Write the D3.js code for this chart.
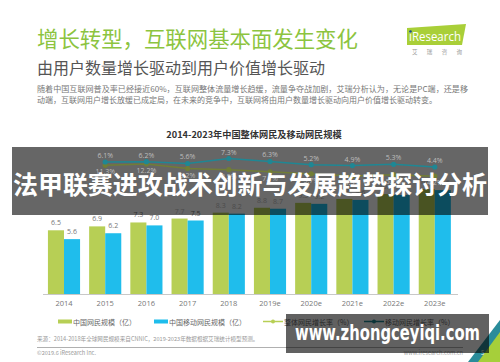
<!DOCTYPE html>
<meta charset="utf-8">
<html>
<head>
<style>
  body { margin: 0; background: #fff; }
  svg { display: block; }
  text { font-family: 'Noto Sans CJK SC', 'Noto Sans', sans-serif; }
  .num text, text.num { font-family: 'Open Sans', 'Noto Sans CJK SC', sans-serif; }
  .axis path { stroke: #c8c8c8; }
  .axis text { fill: #777; font-size: 7.5px; }
</style>
</head>
<body>
<svg width="500" height="362"></svg>
<script src="https://cdn.jsdelivr.net/npm/d3@7"></script>
<script>

// chart data
var years = ["2014", "2015", "2016", "2017", "2018", "2019e", "2020e", "2021e", "2022e", "2023e"];
var netUsers = [6.5, 6.9, 7.3, 7.7, 8.3, 8.8, 9.3, 9.7, 10.2, 10.7];
var mobileUsers = [5.6, 6.2, 7.0, 7.5, 8.2, 8.7, 9.2, 9.6, 10.1, 10.6];
var rateYears = years.slice(1);
var totalRate = [6.1, 6.2, 5.6, 7.3, 6.3, 5.2, 4.9, 5.3, 4.4];
var mobileRate = [11.3, 12.2, 9.2, 8.5, 7.1, 5.7, 4.3, 5.2, 4.2];

var green = "#b7cf55",
    blue = "#1fbdec",
    teal = "#1f8794",
    olive = "#717d36";

var svg = d3.select("svg");

// band overlay limits (used to lighten labels that sit on it)
var bandTop = 147, bandBottom = 215;
function labelColor(y, base) {
  return (y > bandTop && y < bandBottom) ? "#bdbdbd" : base;
}

// header
svg.append("text")
    .attr("x", 37).attr("y", 47)
    .attr("fill", "#8cc43f")
    .style("font-size", "21.4px")
    .text("增长转型，互联网基本面发生变化");

svg.append("text")
    .attr("x", 37).attr("y", 74)
    .attr("fill", "#555")
    .style("font-size", "16px")
    .text("由用户数量增长驱动到用户价值增长驱动");

svg.append("text")
    .attr("x", 37).attr("y", 92)
    .attr("fill", "#777")
    .attr("textLength", 431)
    .attr("lengthAdjust", "spacingAndGlyphs")
    .style("font-size", "8px")
    .text("随着中国互联网普及率已经接近60%，互联网整体流量增长趋缓，流量争夺战加剧，艾瑞分析认为，无论是PC端，还是移");

svg.append("text")
    .attr("x", 37).attr("y", 103)
    .attr("fill", "#777")
    .style("font-size", "8px")
    .text("动端，互联网用户增长放缓已成定局，在未来的竞争中，互联网将由用户数量增长驱动向用户价值增长驱动转变。");

// iResearch logo
svg.append("polygon")
    .attr("points", "407,28 466,24 462,45 407,45")
    .attr("fill", "#a9cf38");
svg.append("text")
    .attr("x", 409).attr("y", 41)
    .attr("fill", "#fff")
    .attr("textLength", 52)
    .attr("lengthAdjust", "spacingAndGlyphs")
    .style("font-family", "'Open Sans', sans-serif")
    .style("font-size", "12.5px")
    .text("iResearch");
svg.append("circle")
    .attr("cx", 410.5).attr("cy", 31.5).attr("r", 1.3)
    .attr("fill", "#1b4f8a");
svg.append("text")
    .attr("x", 412).attr("y", 54)
    .attr("fill", "#999")
    .attr("textLength", 50)
    .style("font-size", "5.5px")
    .text("艾瑞咨询");

// chart title
svg.append("text")
    .attr("x", 254).attr("y", 138)
    .attr("text-anchor", "middle")
    .attr("fill", "#333")
    .style("font-size", "9.2px")
    .style("font-weight", "bold")
    .text("2014-2023年中国整体网民及移动网民规模");

// scales
var x = d3.scaleBand()
    .domain(years)
    .range([43.4, 455.4])
    .paddingInner(0.22)
    .paddingOuter(0.11);

var x1 = d3.scaleBand()
    .domain(["net", "mobile"])
    .range([0, x.bandwidth()]);

var y = d3.scaleLinear()
    .domain([0, 12])
    .range([294, 176.4]);

var yTotal = d3.scaleLinear()
    .domain([4.4, 7.3])
    .range([167, 158.5]);

var yMobile = d3.scaleLinear()
    .domain([3, 12.2])
    .range([178, 164]);

// bars
var rows = years.map(function (yr, i) {
  return [{ year: yr, key: "net", value: netUsers[i] },
          { year: yr, key: "mobile", value: mobileUsers[i] }];
});

var group = svg.append("g")
  .selectAll("g")
  .data(rows)
  .enter().append("g")
    .attr("transform", function (d) { return "translate(" + x(d[0].year) + ",0)"; });

group.selectAll("rect")
  .data(function (d) { return d; })
  .enter().append("rect")
    .attr("x", function (d) { return x1(d.key); })
    .attr("width", x1.bandwidth())
    .attr("y", function (d) { return y(d.value); })
    .attr("height", function (d) { return y(0) - y(d.value); })
    .attr("fill", function (d) { return d.key == "net" ? green : blue; });

// x axis
svg.append("g")
    .attr("class", "axis num")
    .attr("transform", "translate(0,294)")
    .call(d3.axisBottom(x).tickSize(0).tickPadding(7))
    .select(".domain")
    .attr("d", "M43,0.5H458");

// dark band over the chart
svg.append("rect")
    .attr("x", 12).attr("y", bandTop)
    .attr("width", 476).attr("height", bandBottom - bandTop)
    .attr("fill", "rgba(0,0,0,0.6)");

// bar value labels
group.selectAll("text")
  .data(function (d) { return d; })
  .enter().append("text")
    .attr("class", "num")
    .attr("x", function (d) { return x1(d.key) + x1.bandwidth() / 2; })
    .attr("y", function (d) { return y(d.value) - 5; })
    .attr("text-anchor", "middle")
    .attr("fill", function (d) { return labelColor(y(d.value) - 5, "#777"); })
    .style("font-size", "7px")
    .text(function (d) { return d.value.toFixed(1); });

// growth rate lines
var cx = function (yr) { return x(yr) + x.bandwidth() / 2; };

var totalPts = rateYears.map(function (yr, i) { return { year: yr, value: totalRate[i] }; });
var mobilePts = rateYears.map(function (yr, i) { return { year: yr, value: mobileRate[i] }; });

function drawRate(pts, ys, color, above) {
  var g = svg.append("g");
  g.append("path")
      .datum(pts)
      .attr("fill", "none")
      .attr("stroke", color)
      .attr("stroke-width", 1.5)
      .attr("d", d3.line()
        .x(function (d) { return cx(d.year); })
        .y(function (d) { return ys(d.value); }));
  g.selectAll("circle")
    .data(pts)
    .enter().append("circle")
      .attr("cx", function (d) { return cx(d.year); })
      .attr("cy", function (d) { return ys(d.value); })
      .attr("r", 2.6)
      .attr("fill", color);
  g.selectAll("text")
    .data(pts)
    .enter().append("text")
      .attr("class", "num")
      .attr("x", function (d) { return cx(d.year); })
      .attr("y", function (d) { return ys(d.value) + (above ? -4 : 9); })
      .attr("text-anchor", "middle")
      .attr("fill", function (d) { return labelColor(ys(d.value), "#777"); })
      .style("font-size", "7px")
      .text(function (d) { return d.value.toFixed(1) + "%"; });
}

drawRate(mobilePts, yMobile, olive, false);
drawRate(totalPts, yTotal, teal, true);

// band headline
svg.append("text")
    .attr("x", 250).attr("y", 194)
    .attr("text-anchor", "middle")
    .attr("fill", "#fff")
    .attr("textLength", 474)
    .attr("lengthAdjust", "spacingAndGlyphs")
    .style("font-size", "25px")
    .style("font-weight", "bold")
    .text("法甲联赛进攻战术创新与发展趋势探讨分析");

// legend
var legend = svg.append("g").style("font-size", "7px").attr("fill", "#666");
legend.append("rect").attr("x", 58).attr("y", 319.5).attr("width", 14).attr("height", 4).attr("fill", green);
legend.append("text").attr("x", 73).attr("y", 324.5).text("中国网民规模（亿）");
legend.append("rect").attr("x", 154).attr("y", 319.5).attr("width", 14).attr("height", 4).attr("fill", blue);
legend.append("text").attr("x", 169).attr("y", 324.5).text("中国移动网民规模（亿）");
legend.append("line").attr("x1", 263).attr("x2", 283).attr("y1", 321.5).attr("y2", 321.5)
    .attr("stroke", green).attr("stroke-width", 1.5);
legend.append("circle").attr("cx", 273).attr("cy", 321.5).attr("r", 2).attr("fill", green);
legend.append("text").attr("x", 284).attr("y", 324.5).text("整体网民增长率（%）");
legend.append("line").attr("x1", 364).attr("x2", 384).attr("y1", 321.5).attr("y2", 321.5)
    .attr("stroke", teal).attr("stroke-width", 1.5);
legend.append("circle").attr("cx", 374).attr("cy", 321.5).attr("r", 2).attr("fill", teal);
legend.append("text").attr("x", 385).attr("y", 324.5).text("移动网民增长率（%）");

// footer
svg.append("text")
    .attr("x", 37).attr("y", 341)
    .attr("fill", "#999")
    .style("font-size", "5.6px")
    .text("来源：2014-2018年全球网民规模来自CNNIC，2019-2023年数据根据艾瑞统计模型预测。");
svg.append("line")
    .attr("x1", 37).attr("x2", 463).attr("y1", 347.5).attr("y2", 347.5)
    .attr("stroke", "#b0b0b0");
svg.append("text")
    .attr("x", 37).attr("y", 355)
    .attr("fill", "#999")
    .style("font-size", "5.6px")
    .text("©2019.6 iResearch Inc.");
svg.append("text")
    .attr("x", 463).attr("y", 355)
    .attr("text-anchor", "end")
    .attr("fill", "#aaa")
    .style("font-size", "5.6px")
    .text("www.iresearch.com.cn");

// corner decoration
svg.append("polygon").attr("points", "468,362 500,320 500,334 480,362").attr("fill", "#2a8c9a");
svg.append("polygon").attr("points", "478,362 500,362 500,332").attr("fill", "#a6cf3a");
svg.append("text")
    .attr("x", 481).attr("y", 355)
    .attr("fill", "#eee")
    .style("font-size", "6px")
    .text("5");

// watermark box
svg.append("rect")
    .attr("x", 286).attr("y", 314)
    .attr("width", 203).attr("height", 39)
    .attr("fill", "rgba(0,0,0,0.62)");
svg.append("text")
    .attr("x", 295).attr("y", 340)
    .attr("fill", "#fff")
    .attr("textLength", 185)
    .attr("lengthAdjust", "spacingAndGlyphs")
    .style("font-family", "'DejaVu Sans', sans-serif")
    .style("font-size", "21px")
    .style("font-weight", "bold")
    .text("www.zhongceyiqi.com");

</script>
</body>
</html>
